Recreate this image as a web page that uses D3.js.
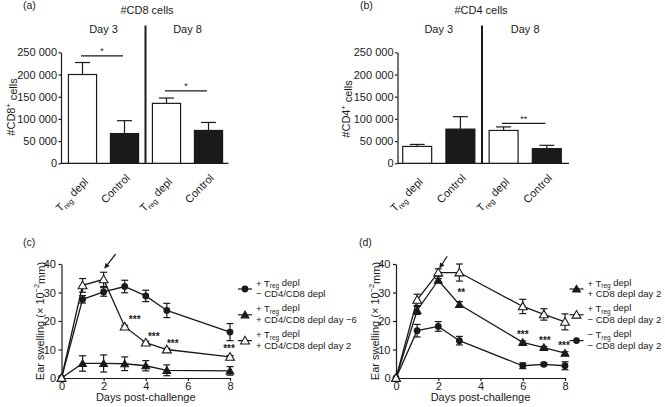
<!DOCTYPE html>
<html><head><meta charset="utf-8">
<script src="https://cdn.jsdelivr.net/npm/d3@7"></script>
<style>
body{margin:0;background:#fff}
svg{display:block}
text{font-family:"Liberation Sans",Arial,Helvetica,sans-serif;fill:#1a1a1a}
</style>
</head><body>
<svg id="chart" width="665" height="407"></svg>
<script>
// ---------- DATA ----------
const barCategories = ["Treg depl", "Control", "Treg depl", "Control"];
const barDays = ["Day 3", "Day 8"];
const barFills = ["white", "black", "white", "black"];
const barTicks = [0, 50000, 100000, 150000, 200000, 250000];
const cd8Values = [200000, 67000, 135000, 74000];
const cd8Errors = [27000, 29000, 12000, 18000];
const cd4Values = [38000, 77000, 74000, 33000];
const cd4Errors = [4500, 28000, 8000, 7500];
const cd8Sig = [{from: 0, to: 1, y: 242000, label: "*"}, {from: 2, to: 3, y: 163000, label: "*"}];
const cd4Sig = [{from: 2, to: 3, y: 90000, label: "**"}];

const dayTicks = [0, 2, 4, 6, 8];
const swellTicks = [0, 10, 20, 30, 40];

// panel (c)
const cDays = [0, 1, 2, 3, 4, 5, 8];
const cNoDepl = [0, 27.6, 30.2, 32.1, 28.8, 23.7, 16.1];
const cNoDeplErr = [0, 1.3, 1.5, 2.2, 2.0, 2.5, 3.0];
const cDeplM6 = [0, 5.1, 5.1, 5.0, 4.3, 2.7, 2.5];
const cDeplM6Err = [0, 2.7, 3.0, 2.4, 1.8, 1.9, 1.5];
const cDepl2 = [0, 32.5, 34.6, 18.0, 12.4, 10.0, 7.4];
const cDepl2Err = [0, 2.4, 2.5, 0.5, 0.5, 0.4, 0.5];
const cStars = [{day: 3, v: 18.0}, {day: 4, v: 12.4}, {day: 5, v: 10.0}, {day: 8, v: 7.4}];

// panel (d)
const dDays = [0, 1, 2, 3, 6, 7, 8];
const dCD8Depl = [0, 23.7, 34.3, 25.8, 12.5, 10.7, 8.7];
const dCD8DeplErr = [0, 1.4, 0.6, 1.0, 0.5, 0.4, 0.5];
const dNoCD8 = [0, 27.4, 37.0, 37.0, 25.1, 22.3, 19.7];
const dNoCD8Err = [0, 2.0, 1.3, 3.0, 2.5, 2.0, 2.8];
const dNoTreg = [0, 16.6, 18.1, 13.1, 4.3, 4.8, 4.3];
const dNoTregErr = [0, 2.2, 1.7, 1.5, 1.0, 0.5, 1.4];
const dStars = [{day: 3, v: 25.8, label: "**"}, {day: 6, v: 12.5, label: "***"}, {day: 7, v: 10.7, label: "***"}, {day: 8, v: 8.7, label: "***"}];

const legendC = [
  {marker: "circle", sign1: "+", sign2: "\u2212 CD4/CD8 depl"},
  {marker: "tri", sign1: "+", sign2: "+ CD4/CD8 depl day \u22126"},
  {marker: "opentri", sign1: "+", sign2: "+ CD4/CD8 depl day 2"}
];
const legendD = [
  {marker: "tri", sign1: "+", sign2: "+ CD8 depl day 2"},
  {marker: "opentri", sign1: "+", sign2: "\u2212 CD8 depl day 2"},
  {marker: "circle", sign1: "\u2212", sign2: "\u2212 CD8 depl day 2"}
];

// ---------- DRAW ----------
const ink = "#1a1a1a";
const svg = d3.select("#chart");
svg.append("rect").attr("width", 665).attr("height", 407).attr("fill", "#fff");

function tregText(sel, prefix, suffix) {
  sel.append("tspan").text(prefix + "T");
  sel.append("tspan").attr("font-size", "0.68em").attr("dy", "0.3em").text("reg");
  sel.append("tspan").attr("dy", "-0.3em").text(suffix);
}

function styleAxis(g) {
  g.selectAll(".domain").attr("stroke", ink).attr("stroke-width", 1.2);
  g.selectAll(".tick line").attr("stroke", ink).attr("stroke-width", 1.2);
  g.selectAll(".tick text").attr("fill", ink).attr("font-size", 11)
    .attr("font-family", '"Liberation Sans",Arial,sans-serif');
}

function barPanel(o) {
  const g = svg.append("g");
  const x = d3.scaleBand().domain(d3.range(barCategories.length)).range(o.xr)
    .paddingInner(0.33).paddingOuter(0.165);
  const y = d3.scaleLinear().domain([0, 250000]).range([163.3, 52.3]);
  const bw = x.bandwidth();
  const cx = i => x(i) + bw / 2;

  const ya = g.append("g").attr("transform", `translate(${o.ax},0)`)
    .call(d3.axisLeft(y).tickValues(barTicks).tickSize(2.5).tickPadding(1.5).tickSizeOuter(0)
      .tickFormat(d => d3.format(",")(d).replace(/,/g, " ")));
  styleAxis(ya);
  g.append("line").attr("x1", o.ax).attr("x2", o.xEnd).attr("y1", y(0)).attr("y2", y(0))
    .attr("stroke", ink).attr("stroke-width", 1.2);

  // error bars
  o.values.forEach((v, i) => {
    const top = y(v + o.errors[i]);
    g.append("line").attr("x1", cx(i)).attr("x2", cx(i)).attr("y1", y(v)).attr("y2", top)
      .attr("stroke", ink).attr("stroke-width", 1.2);
    g.append("line").attr("x1", cx(i) - 7.5).attr("x2", cx(i) + 7.5).attr("y1", top).attr("y2", top)
      .attr("stroke", ink).attr("stroke-width", 1.2);
  });
  // bars
  g.selectAll("rect.bar").data(o.values).join("rect").attr("class", "bar")
    .attr("x", (d, i) => x(i)).attr("width", bw)
    .attr("y", d => y(d)).attr("height", d => y(0) - y(d))
    .attr("fill", (d, i) => barFills[i] === "black" ? ink : "#fff")
    .attr("stroke", ink).attr("stroke-width", 1.2);

  // divider
  const divX = (x(1) + bw + x(2)) / 2;
  g.append("line").attr("x1", divX).attr("x2", divX).attr("y1", 25.5).attr("y2", y(0))
    .attr("stroke", ink).attr("stroke-width", 2);

  // day labels
  barDays.forEach((d, k) => {
    const c = (x(2 * k) + x(2 * k + 1) + bw) / 2;
    g.append("text").attr("x", c).attr("y", 33).attr("text-anchor", "middle").attr("font-size", 11).text(d);
  });
  g.append("text").attr("x", o.titleX).attr("y", 14).attr("text-anchor", "middle").attr("font-size", 11).text(o.title);
  g.append("text").attr("x", o.panelX).attr("y", 8.5).attr("font-size", 10.5).text(o.panel);

  // y title
  const yt = g.append("text").attr("transform", `translate(${o.ytX},${o.ytY}) rotate(-90)`)
    .attr("text-anchor", "middle").attr("font-size", 11);
  yt.append("tspan").text(o.ytMain);
  yt.append("tspan").attr("font-size", "0.65em").attr("dy", "-0.55em").text("+");
  yt.append("tspan").attr("dy", "0.55em").text(" cells");

  // x labels
  barCategories.forEach((c, i) => {
    const isT = c.startsWith("Treg");
    const t = g.append("text")
      .attr("transform", `translate(${cx(i) + (isT ? 7 : 6)},${y(0) + (isT ? 20 : 15.5)}) rotate(-45)`)
      .attr("text-anchor", "end").attr("font-size", 11);
    if (isT) tregText(t, "", " depl"); else t.text(c);
  });

  // significance
  o.sig.forEach(s => {
    const yy = y(s.y);
    g.append("line").attr("x1", cx(s.from) - 1.5).attr("x2", cx(s.to) - 1.5).attr("y1", yy).attr("y2", yy)
      .attr("stroke", ink).attr("stroke-width", 1.2);
    g.append("text").attr("x", (cx(s.from) + cx(s.to)) / 2 - 1.5).attr("y", yy - 1.5)
      .attr("text-anchor", "middle").attr("font-size", 9).text(s.label);
  });
}

barPanel({xr: [61.5, 229.5], ax: 61, xEnd: 228.5, values: cd8Values, errors: cd8Errors, sig: cd8Sig,
  title: "#CD8 cells", titleX: 147, panel: "(a)", panelX: 23, ytX: 14.5, ytY: 107, ytMain: "#CD8"});
barPanel({xr: [395.6, 568.4], ax: 397.5, xEnd: 569, values: cd4Values, errors: cd4Errors, sig: cd4Sig,
  title: "#CD4 cells", titleX: 481, panel: "(b)", panelX: 360, ytX: 350, ytY: 109, ytMain: "#CD4"});

function sym(g, type, x, y) {
  if (type === "circle") {
    g.append("circle").attr("cx", x).attr("cy", y).attr("r", 3.4).attr("fill", ink);
  } else {
    const p = d3.symbol().type(d3.symbolTriangle).size(type === "tri" ? 26 : 34)();
    g.append("path").attr("d", p).attr("transform", `translate(${x},${y + 0.8})`)
      .attr("fill", type === "tri" ? ink : "#fff").attr("stroke", ink).attr("stroke-width", 1.1);
  }
}

function linePanel(o) {
  const g = svg.append("g");
  const x = d3.scaleLinear().domain([0, 8]).range(o.xr);
  const y = d3.scaleLinear().domain([0, 40]).range([378, 264]);

  const xa = g.append("g").attr("transform", `translate(0,${y(0)})`)
    .call(d3.axisBottom(x).tickValues(dayTicks).tickSize(3).tickPadding(1.5).tickSizeOuter(0));
  styleAxis(xa);
  const ya = g.append("g").attr("transform", `translate(${x(0)},0)`)
    .call(d3.axisLeft(y).tickValues(swellTicks).tickSize(3).tickPadding(2.5).tickSizeOuter(0));
  styleAxis(ya);

  // series
  o.series.forEach(s => {
    const pts = o.days.map((d, i) => ({d, v: s.v[i], e: s.e[i]}));
    g.append("path").datum(pts)
      .attr("d", d3.line().x(p => x(p.d)).y(p => y(p.v)))
      .attr("fill", "none").attr("stroke", ink).attr("stroke-width", 1.3);
    pts.forEach(p => {
      if (p.e > 0) {
        const t = y(p.v + p.e), b = y(p.v - p.e);
        g.append("line").attr("x1", x(p.d)).attr("x2", x(p.d)).attr("y1", t).attr("y2", b).attr("stroke", ink).attr("stroke-width", 1.2);
        [t, b].forEach(yy => g.append("line").attr("x1", x(p.d) - 3.5).attr("x2", x(p.d) + 3.5)
          .attr("y1", yy).attr("y2", yy).attr("stroke", ink).attr("stroke-width", 1.2));
      }
    });
    pts.forEach(p => sym(g, s.marker, x(p.d), y(p.v)));
  });

  // stars
  o.stars.forEach(s => {
    g.append("text").attr("x", x(s.day) + (o.starDx[s.day] || 0)).attr("y", y(s.v) + (o.starDy[s.day] || -4))
      .attr("text-anchor", "middle").attr("font-size", 10).attr("font-weight", "bold").text(s.label || "***");
  });

  // arrow
  const ax1 = x(o.arrow[0]), ay1 = y(o.arrow[1]), ax2 = x(o.arrow[2]), ay2 = y(o.arrow[3]);
  const ang = Math.atan2(ay2 - ay1, ax2 - ax1);
  g.append("line").attr("x1", ax1).attr("y1", ay1).attr("x2", ax2 - 3 * Math.cos(ang)).attr("y2", ay2 - 3 * Math.sin(ang))
    .attr("stroke", ink).attr("stroke-width", 1.2);
  const hl = 5.5, hw = 2.6;
  const bx = ax2 - hl * Math.cos(ang), by = ay2 - hl * Math.sin(ang);
  g.append("path").attr("d", `M${ax2},${ay2}L${bx + hw * Math.sin(ang)},${by - hw * Math.cos(ang)}L${bx - hw * Math.sin(ang)},${by + hw * Math.cos(ang)}Z`)
    .attr("fill", ink);

  // axis titles
  g.append("text").attr("x", (o.xr[0] + o.xr[1]) / 2).attr("y", 401).attr("text-anchor", "middle")
    .attr("font-size", 11).text("Days post-challenge");
  const yt = g.append("text").attr("transform", `translate(${o.ytX},321) rotate(-90)`)
    .attr("text-anchor", "middle").attr("font-size", 11);
  yt.append("tspan").text("Ear swelling (\u00d7 10");
  yt.append("tspan").attr("font-size", "0.68em").attr("dy", "-0.55em").text("\u22122");
  yt.append("tspan").attr("dy", "0.5em").text("mm)");
  g.append("text").attr("x", o.panelX).attr("y", 246).attr("font-size", 10.5).text(o.panel);

  // legend
  o.legend.forEach((L, k) => {
    const base = 286.5 + k * 25.8;
    const my = base + 2.5;
    g.append("line").attr("x1", o.legX - 7).attr("x2", o.legX + 7).attr("y1", my).attr("y2", my)
      .attr("stroke", ink).attr("stroke-width", 1.2);
    sym(g, L.marker, o.legX, my);
    const t1 = g.append("text").attr("x", o.legX + 11).attr("y", base).attr("font-size", 9.5);
    tregText(t1, L.sign1 + " ", " depl");
    g.append("text").attr("x", o.legX + 11).attr("y", base + 10.5).attr("font-size", 9.5).text(L.sign2);
  });
}

linePanel({
  xr: [61.5, 230], days: cDays, panel: "(c)", panelX: 23, ytX: 43.5,
  series: [
    {v: cNoDepl, e: cNoDeplErr, marker: "circle"},
    {v: cDeplM6, e: cDeplM6Err, marker: "tri"},
    {v: cDepl2, e: cDepl2Err, marker: "opentri"}
  ],
  stars: cStars, starDx: {3: 10, 4: 8, 5: 6, 8: -1}, starDy: {3: -4, 4: -3, 5: -3, 8: -5},
  arrow: [2.57, 43.5, 2.03, 38.3], legend: legendC, legX: 245
});
linePanel({
  xr: [396, 565], days: dDays, panel: "(d)", panelX: 359, ytX: 378.5,
  series: [
    {v: dNoTreg, e: dNoTregErr, marker: "circle"},
    {v: dCD8Depl, e: dCD8DeplErr, marker: "tri"},
    {v: dNoCD8, e: dNoCD8Err, marker: "opentri"}
  ],
  stars: dStars, starDx: {3: 2, 6: 0, 7: 1, 8: -1}, starDy: {3: -8, 6: -4, 7: -4, 8: -4},
  arrow: [2.42, 42.7, 2.05, 38.4], legend: legendD, legX: 576.5
});
</script>
</body></html>
